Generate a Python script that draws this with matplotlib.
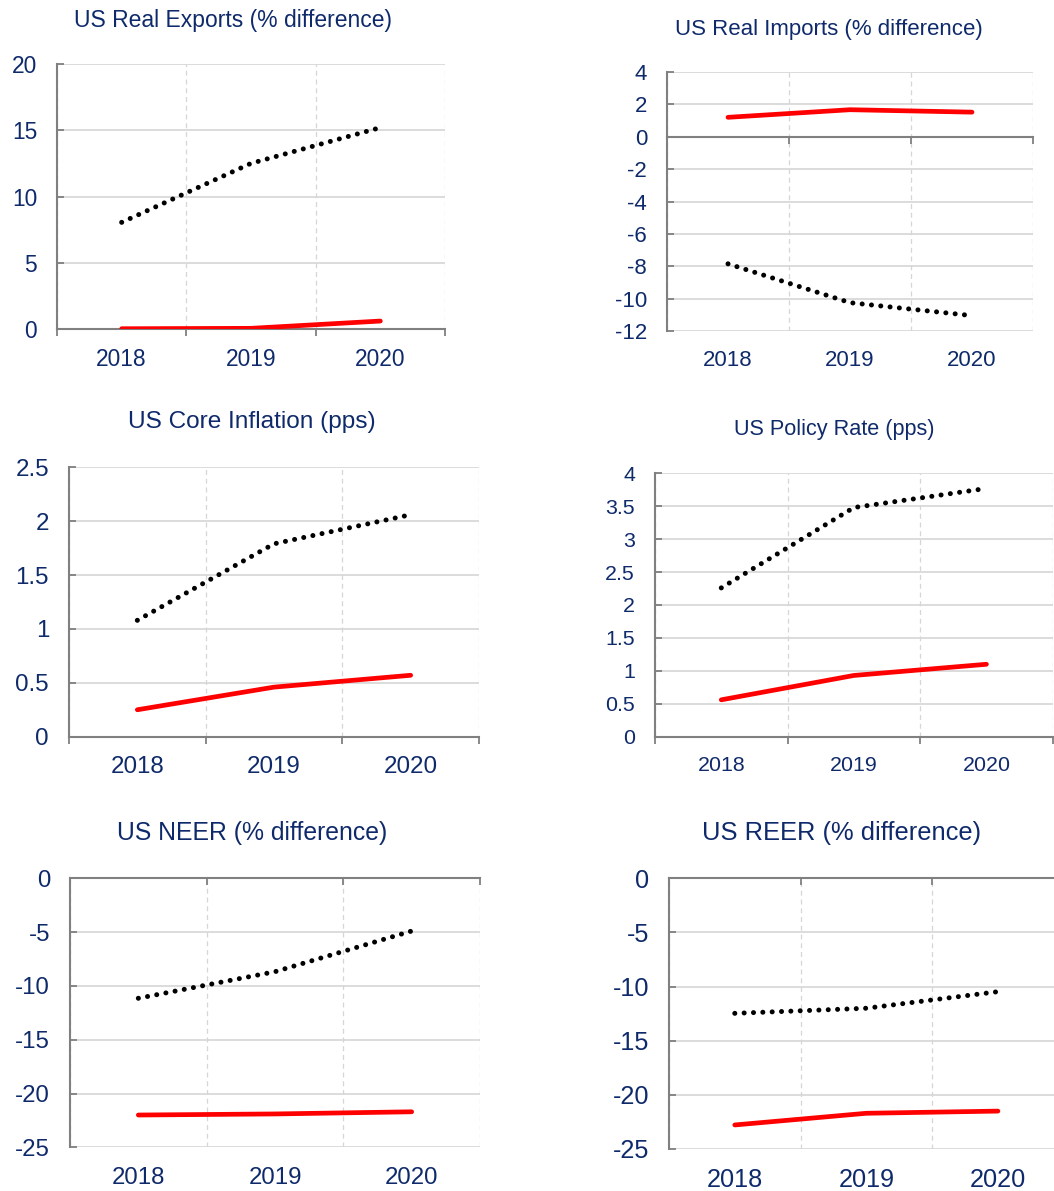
import matplotlib
matplotlib.use("Agg")
import matplotlib.pyplot as plt
from matplotlib.ticker import FuncFormatter, FixedLocator

plt.rcParams['font.family'] = ['Liberation Sans', 'DejaVu Sans']
plt.rcParams['axes.unicode_minus'] = False

# ---------------- data ----------------
years = ['2018', '2019', '2020']

titles = ['US Real Exports (% difference)', 'US Real Imports (% difference)',
          'US Core Inflation (pps)', 'US Policy Rate (pps)',
          'US NEER (% difference)', 'US REER (% difference)']

exports_dotted = [8.05, 12.5, 15.2]
exports_red = [0.02, 0.05, 0.6]
imports_dotted = [-7.85, -10.25, -11.05]
imports_red = [1.2, 1.67, 1.52]
core_dotted = [1.08, 1.79, 2.06]
core_red = [0.25, 0.46, 0.57]
policy_dotted = [2.26, 3.48, 3.77]
policy_red = [0.56, 0.93, 1.10]
neer_dotted = [-11.15, -8.68, -4.9]
neer_red = [-22.0, -21.9, -21.7]
reer_dotted = [-12.47, -12.0, -10.47]
reer_red = [-22.78, -21.7, -21.5]

yticks_exports = [0, 5, 10, 15, 20]
yticks_imports = [-12, -10, -8, -6, -4, -2, 0, 2, 4]
yticks_core = [0, 0.5, 1, 1.5, 2, 2.5]
yticks_policy = [0, 0.5, 1, 1.5, 2, 2.5, 3, 3.5, 4]
yticks_neer = [-25, -20, -15, -10, -5, 0]
yticks_reer = [-25, -20, -15, -10, -5, 0]

dotted_series = [exports_dotted, imports_dotted, core_dotted, policy_dotted, neer_dotted, reer_dotted]
red_series = [exports_red, imports_red, core_red, policy_red, neer_red, reer_red]
yticks_all = [yticks_exports, yticks_imports, yticks_core, yticks_policy, yticks_neer, yticks_reer]

# ---------------- layout (pixels) ----------------
W, H = 1054, 1191
# left, right, top, bottom
boxes = [(57, 445, 64, 329), (667, 1033, 72, 331),
         (69, 479, 467.3, 736.7), (655, 1052.7, 473.3, 736.7),
         (70, 480, 878.3, 1147.3), (669, 1063.7, 878.3, 1149)]
title_pos = [(233, 21), (829, 30), (252, 422), (834, 430), (252, 833), (842, 833)]
title_size = [16.5, 16.0, 17.6, 15.6, 17.8, 18.4]
tick_size = [16.4, 16.0, 17.4, 15.4, 17.3, 18.2]

NAVY = '#0f2a6b'
SPINE = '#808080'
GRID = '#d6d6d6'

fig = plt.figure(figsize=(W / 100, H / 100), dpi=100)

fmt = FuncFormatter(lambda v, p: ('%g' % v))

for i in range(6):
    l, r, t, b = boxes[i]
    ax = fig.add_axes([l / W, 1 - b / H, (r - l) / W, (b - t) / H])
    x = list(range(len(years)))
    yt = yticks_all[i]
    ax.set_xlim(-0.5, len(years) - 0.5)
    ax.set_ylim(min(yt), max(yt))

    ax.plot(x, dotted_series[i], color='black', lw=3.6,
            linestyle=(0, (0.01, 1.86)), dash_capstyle='round', zorder=4)
    ax.plot(x, red_series[i], color='#ff0000', lw=3.4,
            solid_capstyle='round', zorder=5)

    # spines
    for s in ['top', 'right']:
        ax.spines[s].set_visible(False)
    ax.spines['left'].set_color(SPINE)
    ax.spines['left'].set_linewidth(1.5)
    ax.spines['bottom'].set_color(SPINE)
    ax.spines['bottom'].set_linewidth(1.5)
    ax.spines['bottom'].set_position(('data', 0))
    ax.spines['left'].set_zorder(3)
    ax.spines['bottom'].set_zorder(3)

    # y axis
    ax.yaxis.set_major_locator(FixedLocator(yt))
    ax.yaxis.set_major_formatter(fmt)
    ax.tick_params(axis='y', direction='in', length=5, width=1.3, color=SPINE,
                   pad=14.4, labelcolor=NAVY, labelsize=tick_size[i])
    ax.yaxis.grid(True, color=GRID, lw=1.2, linestyle='-')

    # x axis: ticks at category boundaries, labels at centres
    bounds = [k - 0.5 for k in range(len(years) + 1)]
    ax.xaxis.set_major_locator(FixedLocator(bounds))
    ax.set_xticklabels([])
    ax.tick_params(axis='x', direction='out', length=5, width=1.3, color=SPINE)
    ax.xaxis.grid(True, color=GRID, lw=0.9, linestyle=(0, (4, 3)))
    ax.set_axisbelow(True)

    sec = ax.secondary_xaxis('bottom')
    sec.set_xticks(x)
    sec.set_xticklabels(years)
    sec.tick_params(axis='x', length=0, pad=14.0, labelcolor=NAVY,
                    labelsize=tick_size[i])
    sec.spines['bottom'].set_visible(False)

    tx, ty = title_pos[i]
    fig.text(tx / W, 1 - ty / H, titles[i], ha='center', va='center',
             color=NAVY, fontsize=title_size[i])

fig.savefig('out.png', dpi=100, facecolor='white')
